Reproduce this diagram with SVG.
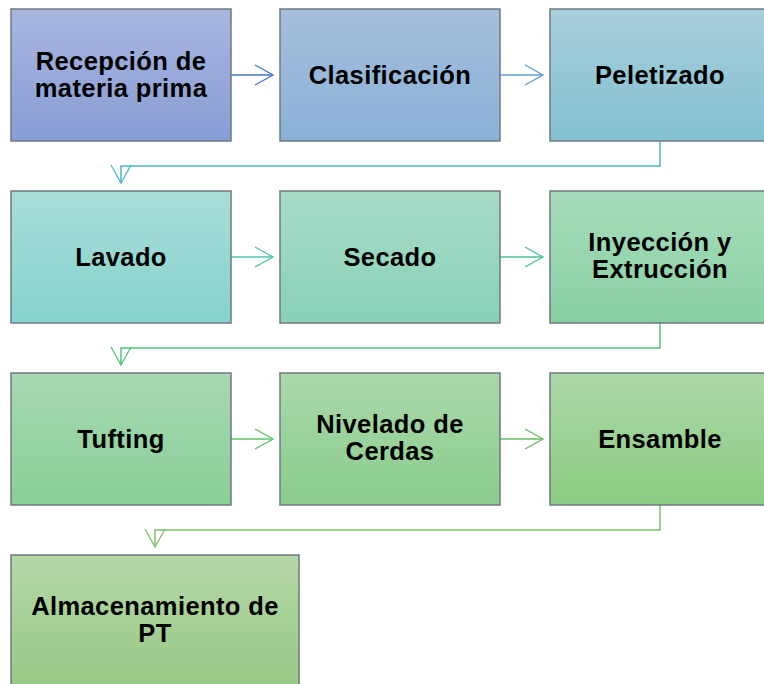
<svg xmlns="http://www.w3.org/2000/svg" width="764" height="684" viewBox="0 0 764 684">
<defs>
<linearGradient id="g1" x1="0" y1="0" x2="0" y2="1"><stop offset="0" stop-color="#a8b6df"/><stop offset="1" stop-color="#889dd6"/></linearGradient>
<linearGradient id="g2" x1="0" y1="0" x2="0" y2="1"><stop offset="0" stop-color="#a6bfdd"/><stop offset="1" stop-color="#89b1d6"/></linearGradient>
<linearGradient id="g3" x1="0" y1="0" x2="0" y2="1"><stop offset="0" stop-color="#a8cedb"/><stop offset="1" stop-color="#83c1d2"/></linearGradient>
<linearGradient id="g4" x1="0" y1="0" x2="0" y2="1"><stop offset="0" stop-color="#a9ded9"/><stop offset="1" stop-color="#86d2cd"/></linearGradient>
<linearGradient id="g5" x1="0" y1="0" x2="0" y2="1"><stop offset="0" stop-color="#a8dcc8"/><stop offset="1" stop-color="#89d1b7"/></linearGradient>
<linearGradient id="g6" x1="0" y1="0" x2="0" y2="1"><stop offset="0" stop-color="#a8dcbd"/><stop offset="1" stop-color="#88d0a2"/></linearGradient>
<linearGradient id="g7" x1="0" y1="0" x2="0" y2="1"><stop offset="0" stop-color="#a8d8b2"/><stop offset="1" stop-color="#88cf97"/></linearGradient>
<linearGradient id="g8" x1="0" y1="0" x2="0" y2="1"><stop offset="0" stop-color="#aad8ac"/><stop offset="1" stop-color="#8acd8c"/></linearGradient>
<linearGradient id="g9" x1="0" y1="0" x2="0" y2="1"><stop offset="0" stop-color="#acd8a8"/><stop offset="1" stop-color="#8ccc82"/></linearGradient>
<linearGradient id="g10" x1="0" y1="0" x2="0" y2="1"><stop offset="0" stop-color="#b5d8a8"/><stop offset="1" stop-color="#98c886"/></linearGradient>
<marker id="a1" viewBox="0 0 20 22" refX="19" refY="11" markerWidth="20" markerHeight="22" markerUnits="userSpaceOnUse" orient="auto"><path d="M1,1 L19,11 L1,21" fill="none" stroke="#4a78c6" stroke-width="1.3"/></marker>
<marker id="a2" viewBox="0 0 20 22" refX="19" refY="11" markerWidth="20" markerHeight="22" markerUnits="userSpaceOnUse" orient="auto"><path d="M1,1 L19,11 L1,21" fill="none" stroke="#5b9dd3" stroke-width="1.3"/></marker>
<marker id="a3" viewBox="0 0 20 22" refX="19" refY="11" markerWidth="20" markerHeight="22" markerUnits="userSpaceOnUse" orient="auto"><path d="M1,1 L19,11 L1,21" fill="none" stroke="#4bb8c8" stroke-width="1.3"/></marker>
<marker id="a4" viewBox="0 0 20 22" refX="19" refY="11" markerWidth="20" markerHeight="22" markerUnits="userSpaceOnUse" orient="auto"><path d="M1,1 L19,11 L1,21" fill="none" stroke="#4cc4ac" stroke-width="1.3"/></marker>
<marker id="a5" viewBox="0 0 20 22" refX="19" refY="11" markerWidth="20" markerHeight="22" markerUnits="userSpaceOnUse" orient="auto"><path d="M1,1 L19,11 L1,21" fill="none" stroke="#4cc490" stroke-width="1.3"/></marker>
<marker id="a6" viewBox="0 0 20 22" refX="19" refY="11" markerWidth="20" markerHeight="22" markerUnits="userSpaceOnUse" orient="auto"><path d="M1,1 L19,11 L1,21" fill="none" stroke="#55c27c" stroke-width="1.3"/></marker>
<marker id="a7" viewBox="0 0 20 22" refX="19" refY="11" markerWidth="20" markerHeight="22" markerUnits="userSpaceOnUse" orient="auto"><path d="M1,1 L19,11 L1,21" fill="none" stroke="#5cc46a" stroke-width="1.3"/></marker>
<marker id="a8" viewBox="0 0 20 22" refX="19" refY="11" markerWidth="20" markerHeight="22" markerUnits="userSpaceOnUse" orient="auto"><path d="M1,1 L19,11 L1,21" fill="none" stroke="#66c060" stroke-width="1.3"/></marker>
<marker id="a9" viewBox="0 0 20 22" refX="19" refY="11" markerWidth="20" markerHeight="22" markerUnits="userSpaceOnUse" orient="auto"><path d="M1,1 L19,11 L1,21" fill="none" stroke="#80c068" stroke-width="1.3"/></marker>
</defs>
<style>
.box{stroke:#6f7a7e;stroke-width:1.5}
.t{font-family:"Liberation Sans",Arial,sans-serif;font-weight:bold;font-size:25.5px;letter-spacing:0.4px;fill:#000;text-anchor:middle}
.c{fill:none;stroke-width:1.5}
</style>
<rect width="764" height="684" fill="#fff"/>
<g id="connectors">
<line class="c" x1="231" y1="75" x2="273" y2="75" stroke="#4a78c6" marker-end="url(#a1)"/>
<line class="c" x1="500" y1="75" x2="543" y2="75" stroke="#5b9dd3" marker-end="url(#a2)"/>
<polyline class="c" points="660,141 660,166 121,166 121,183" stroke="#4bb8c8" marker-end="url(#a3)"/>
<line class="c" x1="231" y1="257" x2="273" y2="257" stroke="#4cc4ac" marker-end="url(#a4)"/>
<line class="c" x1="500" y1="257" x2="543" y2="257" stroke="#4cc490" marker-end="url(#a5)"/>
<polyline class="c" points="660,323 660,348 121,348 121,365" stroke="#55c27c" marker-end="url(#a6)"/>
<line class="c" x1="231" y1="439" x2="273" y2="439" stroke="#5cc46a" marker-end="url(#a7)"/>
<line class="c" x1="500" y1="439" x2="543" y2="439" stroke="#62c262" marker-end="url(#a8)"/>
<polyline class="c" points="660,505 660,530 155,530 155,547" stroke="#80c068" marker-end="url(#a9)"/>
</g>
<g id="n1"><rect class="box" x="11" y="9" width="220" height="132" fill="url(#g1)"/><text class="t" x="121" y="70">Recepción de</text><text class="t" x="121" y="97">materia prima</text></g>
<g id="n2"><rect class="box" x="280" y="9" width="220" height="132" fill="url(#g2)"/><text class="t" x="390" y="84">Clasificación</text></g>
<g id="n3"><rect class="box" x="550" y="9" width="220" height="132" fill="url(#g3)"/><text class="t" x="660" y="84">Peletizado</text></g>
<g id="n4"><rect class="box" x="11" y="191" width="220" height="132" fill="url(#g4)"/><text class="t" x="121" y="266">Lavado</text></g>
<g id="n5"><rect class="box" x="280" y="191" width="220" height="132" fill="url(#g5)"/><text class="t" x="390" y="266">Secado</text></g>
<g id="n6"><rect class="box" x="550" y="191" width="220" height="132" fill="url(#g6)"/><text class="t" x="660" y="251">Inyección y</text><text class="t" x="660" y="278">Extrucción</text></g>
<g id="n7"><rect class="box" x="11" y="373" width="220" height="132" fill="url(#g7)"/><text class="t" x="121" y="448">Tufting</text></g>
<g id="n8"><rect class="box" x="280" y="373" width="220" height="132" fill="url(#g8)"/><text class="t" x="390" y="433">Nivelado de</text><text class="t" x="390" y="460">Cerdas</text></g>
<g id="n9"><rect class="box" x="550" y="373" width="220" height="132" fill="url(#g9)"/><text class="t" x="660" y="448">Ensamble</text></g>
<g id="n10"><rect class="box" x="11" y="555" width="288" height="132" fill="url(#g10)"/><text class="t" x="155" y="615">Almacenamiento de</text><text class="t" x="155" y="642">PT</text></g>
</svg>
